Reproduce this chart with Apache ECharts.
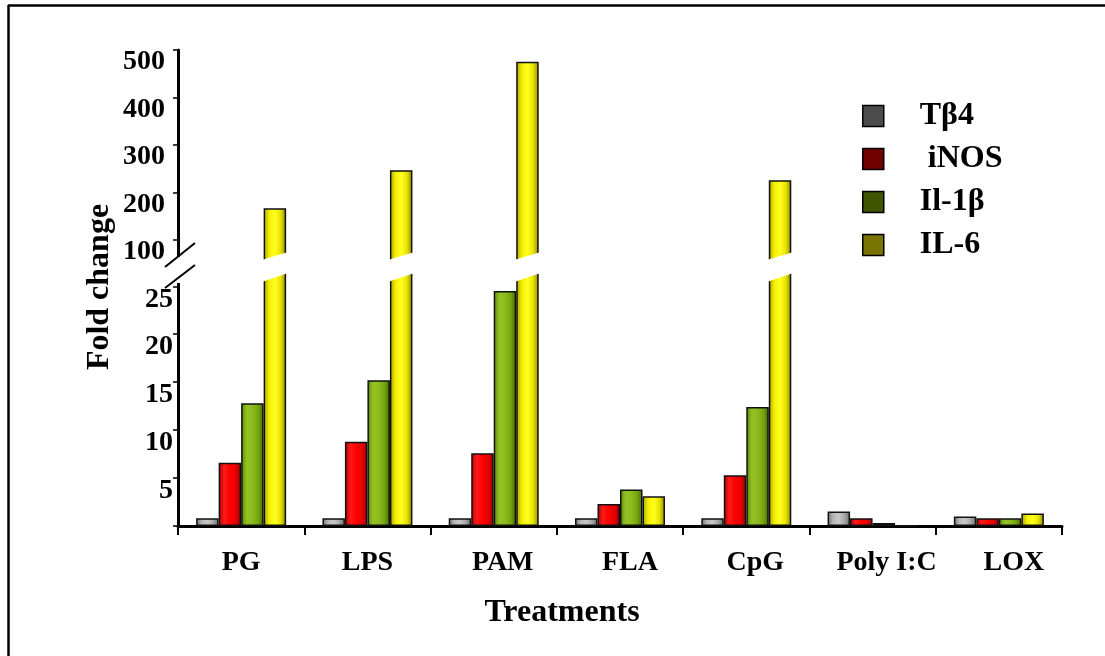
<!DOCTYPE html>
<html>
<head>
<meta charset="utf-8">
<script src="https://cdn.jsdelivr.net/npm/echarts@6/dist/echarts.min.js"></script>
<style>
html,body{margin:0;padding:0;background:#fff;}
#chart{width:1105px;height:656px;}
</style>
</head>
<body>
<div id="chart"></div>
<script>
// ---- data ----
const categories = ['PG', 'LPS', 'PAM', 'FLA', 'CpG', 'Poly I:C', 'LOX'];
const seriesNames = ['Tβ4', 'iNOS', 'Il-1β', 'IL-6'];
const tb4  = [0.8, 0.8, 0.8, 0.8, 0.8, 1.5, 1.0];
const inos = [6.6, 8.8, 7.6, 2.3, 5.3, 0.8, 0.8];
const il1b = [12.8, 15.2, 24.5, 3.8, 12.4, 0.3, 0.8];
const il6  = [167, 247, 475, 3.1, 226, 0, 1.3];
const lowerTicks = [5, 10, 15, 20, 25];
const upperTicks = [100, 200, 300, 400, 500];
const xAxisTitle = 'Treatments';
const yAxisTitle = 'Fold change';

// ---- styling ----
const FONT = 'Liberation Serif';
const lowerMax = 26.7, upperMin = 36.8, upperMax = 500;
const barW = 22.5;
const labelShift = [0, 0, 9, 10, 9, 14, 15];
function grad(stops) {
  return { type: 'linear', x: 0, y: 0, x2: 1, y2: 0,
    colorStops: stops.map((c, i) => ({ offset: i / (stops.length - 1), color: c })) };
}
const barColors = [
  grad(['#6e6e6e', '#b8b8b8', '#c8c8c8', '#a8a8a8', '#6a6a6a']),
  grad(['#b00000', '#ff1a1a', '#ff0000', '#e80000', '#9a0000']),
  grad(['#5a8600', '#94c226', '#8cbc1c', '#76a610', '#466c00']),
  grad(['#a8a000', '#f4f000', '#ffff20', '#e8e400', '#8c8800'])
];
const legendColors = ['#4b4b4b', '#700000', '#3f5500', '#7a7400'];
const valueLists = [tb4, inos, il1b, il6];

const chart = echarts.init(document.getElementById('chart'), null, { renderer: 'canvas' });

const series = [];
[0, 1].forEach(g => {
  seriesNames.forEach((n, i) => {
    series.push({
      type: 'bar', name: n, xAxisIndex: g, yAxisIndex: g,
      data: valueLists[i], barWidth: barW, barGap: '0%', clip: true,
      itemStyle: { color: barColors[i], borderColor: '#111', borderWidth: 1.5 },
      emphasis: { disabled: true }, silent: true
    });
  });
});

const labelStyle = { fontFamily: FONT, fontWeight: 'bold', color: '#000' };

const option = {
  animation: false,
  backgroundColor: '#fff',
  grid: [
    { left: 178, right: 43, top: 50, bottom: 386 },
    { left: 178, right: 43, top: 270, bottom: 130 }
  ],
  xAxis: [
    { type: 'category', gridIndex: 0, data: categories, show: false },
    { type: 'category', gridIndex: 1,
      data: categories.map((c, i) => ({ value: c, textStyle: { padding: [0, 0, 0, 2 * labelShift[i]] } })),
      axisLine: { lineStyle: { color: '#000', width: 3 } },
      axisTick: { show: true, length: 9, lineStyle: { color: '#000', width: 2 } },
      axisLabel: Object.assign({ fontSize: 28, margin: 23, interval: 0 }, labelStyle)
    }
  ],
  yAxis: [
    { type: 'value', gridIndex: 0, min: upperMin, max: upperMax,
      axisLine: { show: true, lineStyle: { color: '#000', width: 3 } },
      axisTick: { show: true, length: 5, customValues: upperTicks, lineStyle: { color: '#000', width: 1.5 } },
      axisLabel: Object.assign({ fontSize: 28, margin: 13, customValues: upperTicks, verticalAlign: 'top', lineHeight: 24 }, labelStyle),
      splitLine: { show: false }
    },
    { type: 'value', gridIndex: 1, min: 0, max: lowerMax,
      axisLine: { show: true, lineStyle: { color: '#000', width: 3 } },
      axisTick: { show: true, length: 5, customValues: [0].concat(lowerTicks), lineStyle: { color: '#000', width: 1.5 } },
      axisLabel: Object.assign({ fontSize: 28, margin: 5, customValues: lowerTicks, verticalAlign: 'top', lineHeight: 26 }, labelStyle),
      splitLine: { show: false }
    }
  ],
  legend: {
    orient: 'vertical', left: 857, top: 95, icon: 'rect',
    itemWidth: 21, itemHeight: 21, itemGap: 11, selectedMode: false,
    formatter: n => (n === 'iNOS' ? ' iNOS' : n),
    textStyle: Object.assign({ fontSize: 32, padding: [0, 0, 0, 31] }, labelStyle),
    data: seriesNames.map((n, i) => ({ name: n, itemStyle: { color: legendColors[i], borderColor: '#000', borderWidth: 1.5 } }))
  },
  series: series
};
chart.setOption(option);

// ---- decorations: frame, axis break, titles, bar breaks ----
const gfx = [
  { type: 'line', z: 100, shape: { x1: 8, y1: 5.5, x2: 1105, y2: 5.5 }, style: { stroke: '#000', lineWidth: 2.5 } },
  { type: 'line', z: 100, shape: { x1: 8.5, y1: 5, x2: 8.5, y2: 656 }, style: { stroke: '#000', lineWidth: 2.5 } },
  { type: 'text', z: 100, x: 562, y: 613, style: { text: xAxisTitle, font: 'bold 32px "Liberation Serif"', fill: '#000', align: 'center', verticalAlign: 'middle' } },
  { type: 'text', z: 100, x: 100, y: 287, rotation: Math.PI / 2, style: { text: yAxisTitle, font: 'bold 32px "Liberation Serif"', fill: '#000', align: 'center', verticalAlign: 'middle' } }
];
const p0 = chart.convertToPixel({ gridIndex: 1 }, [0, 0]);
const p1 = chart.convertToPixel({ gridIndex: 1 }, [1, 0]);
const axX = p0[0] - (p1[0] - p0[0]) / 2;
const yb = chart.convertToPixel({ gridIndex: 1 }, [0, lowerMax])[1];
// mask the axis gap and draw break marks
gfx.push({ type: 'rect', z: 100, shape: { x: axX - 8, y: yb - 13, width: 16, height: 26 }, style: { fill: '#fff' } });
gfx.push({ type: 'line', z: 101, shape: { x1: axX - 13, y1: yb - 3, x2: axX + 17, y2: yb - 27 }, style: { stroke: '#000', lineWidth: 2 } });
gfx.push({ type: 'line', z: 101, shape: { x1: axX - 13, y1: yb + 18, x2: axX + 17, y2: yb - 5 }, style: { stroke: '#000', lineWidth: 2 } });
valueLists.forEach((vals, si) => {
  vals.forEach((v, j) => {
    if (v > lowerMax) {
      const xc = chart.convertToPixel({ gridIndex: 1 }, [j, 0])[0];
      const xL = xc - 2 * barW + si * barW, xR = xL + barW;
      gfx.push({ type: 'polygon', z: 100, shape: { points: [[xL - 2, yb - 10], [xR + 2, yb - 18], [xR + 2, yb + 3], [xL - 2, yb + 12]] }, style: { fill: '#fff' } });
    }
  });
});
chart.setOption({ graphic: gfx });
</script>
</body>
</html>
